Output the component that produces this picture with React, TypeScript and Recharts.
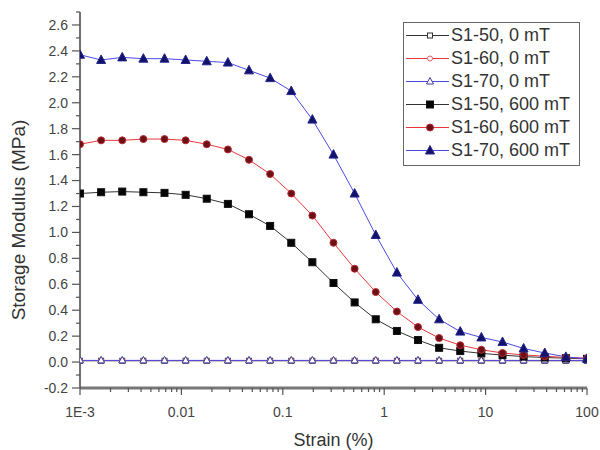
import { LineChart, Line, XAxis, YAxis, Label, Legend } from 'recharts';

if (typeof document !== 'undefined') document.body.style.margin = '0';

const FONT = '"Liberation Sans", Arial, sans-serif';

// strain (%) — log-spaced sweep
const strain = [
  0.001, 0.001616, 0.00261, 0.004217, 0.006813, 0.01101, 0.01778, 0.02873, 0.04642, 0.07499,
  0.1212, 0.1957, 0.3162, 0.5109, 0.8254, 1.334, 2.154, 3.481, 5.623, 9.085,
  14.68, 23.71, 38.31, 61.9, 100,
];

// storage modulus (MPa)
const s50_0 = [
  0.01, 0.01, 0.01, 0.01, 0.01, 0.01, 0.01, 0.01, 0.01, 0.01,
  0.01, 0.01, 0.01, 0.01, 0.01, 0.01, 0.01, 0.01, 0.01, 0.01,
  0.01, 0.01, 0.01, 0.01, 0.01,
];
const s60_0 = [
  0.012, 0.012, 0.012, 0.012, 0.012, 0.012, 0.012, 0.012, 0.012, 0.012,
  0.012, 0.012, 0.012, 0.012, 0.012, 0.012, 0.012, 0.012, 0.012, 0.012,
  0.012, 0.012, 0.012, 0.012, 0.012,
];
const s70_0 = [
  0.013, 0.013, 0.013, 0.013, 0.013, 0.013, 0.013, 0.013, 0.013, 0.013,
  0.013, 0.013, 0.013, 0.013, 0.013, 0.013, 0.013, 0.013, 0.013, 0.013,
  0.013, 0.013, 0.013, 0.013, 0.013,
];
const s50_600 = [
  1.3, 1.31, 1.315, 1.31, 1.305, 1.29, 1.26, 1.22, 1.14, 1.05,
  0.92, 0.77, 0.61, 0.46, 0.33, 0.24, 0.17, 0.11, 0.085, 0.067,
  0.054, 0.042, 0.035, 0.03, 0.025,
];
const s60_600 = [
  1.68, 1.71, 1.71, 1.72, 1.72, 1.71, 1.68, 1.64, 1.56, 1.45,
  1.3, 1.13, 0.92, 0.72, 0.54, 0.39, 0.27, 0.185, 0.13, 0.095,
  0.07, 0.055, 0.045, 0.035, 0.03,
];
const s70_600 = [
  2.37, 2.33, 2.35, 2.34, 2.34, 2.33, 2.32, 2.31, 2.25, 2.19,
  2.09, 1.87, 1.6, 1.3, 0.98, 0.69, 0.48, 0.33, 0.235, 0.19,
  0.155, 0.105, 0.07, 0.04, 0.025,
];

const xMajor = [0.001, 0.01, 0.1, 1, 10, 100];
const xLabels = ['1E-3', '0.01', '0.1', '1', '10', '100'];
const yMajor = [-0.2, 0, 0.2, 0.4, 0.6, 0.8, 1.0, 1.2, 1.4, 1.6, 1.8, 2.0, 2.2, 2.4, 2.6];
const yLabels = ['-0.2', '0.0', '0.2', '0.4', '0.6', '0.8', '1.0', '1.2', '1.4', '1.6', '1.8', '2.0', '2.2', '2.4', '2.6'];
const yMinor = [-0.1, 0.1, 0.3, 0.5, 0.7, 0.9, 1.1, 1.3, 1.5, 1.7, 1.9, 2.1, 2.3, 2.5, 2.7];

const xMinor = xMajor.slice(0, -1).flatMap((d) => [2, 3, 4, 5, 6, 7, 8, 9].map((m) => d * m));
const xTicks = [...xMajor, ...xMinor].sort((a, b) => a - b);
const yTicks = [...yMajor, ...yMinor].sort((a, b) => a - b);

const data = strain.map((x, i) => ({
  strain: x,
  s50_0: s50_0[i],
  s60_0: s60_0[i],
  s70_0: s70_0[i],
  s50_600: s50_600[i],
  s60_600: s60_600[i],
  s70_600: s70_600[i],
}));

type Shape = 'square' | 'circle' | 'triangle';

const series = [
  { key: 's50_0', name: 'S1-50, 0 mT', line: '#333333', shape: 'square' as Shape, fill: '#ffffff', stroke: '#333333', size: 5 },
  { key: 's60_0', name: 'S1-60, 0 mT', line: '#e8383c', shape: 'circle' as Shape, fill: '#ffffff', stroke: '#e06066', size: 5 },
  { key: 's70_0', name: 'S1-70, 0 mT', line: '#4a4ae6', shape: 'triangle' as Shape, fill: '#ffffff', stroke: '#3c3c9e', size: 6 },
  { key: 's50_600', name: 'S1-50, 600 mT', line: '#333333', shape: 'square' as Shape, fill: '#050505', stroke: '#111111', size: 7 },
  { key: 's60_600', name: 'S1-60, 600 mT', line: '#e8383c', shape: 'circle' as Shape, fill: '#6b1016', stroke: '#b82a30', size: 7 },
  { key: 's70_600', name: 'S1-70, 600 mT', line: '#4a4ae6', shape: 'triangle' as Shape, fill: '#12126a', stroke: '#24248c', size: 8 },
];

function Marker({ cx, cy, shape, fill, stroke, size }: any) {
  if (cx == null || cy == null) return null;
  const h = size / 2;
  if (shape === 'square')
    return <rect x={cx - h} y={cy - h} width={size} height={size} fill={fill} stroke={stroke} strokeWidth={1} />;
  if (shape === 'circle') return <circle cx={cx} cy={cy} r={h} fill={fill} stroke={stroke} strokeWidth={1} />;
  return (
    <polygon
      points={`${cx},${cy - h - 1} ${cx - h - 0.5},${cy + h - 0.5} ${cx + h + 0.5},${cy + h - 0.5}`}
      fill={fill}
      stroke={stroke}
      strokeWidth={1}
    />
  );
}

const XTick = (props: any) => {
  const { x, y, payload } = props;
  const idx = xMajor.indexOf(payload.value);
  const major = idx >= 0;
  return (
    <g>
      <line x1={x} x2={x} y1={y} y2={y + (major ? 7 : 4)} stroke="#555" strokeWidth={1.2} />
      {major && (
        <text x={x} y={y + 29} textAnchor="middle" fontSize={14} fontFamily={FONT} fill="#444">
          {xLabels[idx]}
        </text>
      )}
    </g>
  );
};

const YTick = (props: any) => {
  const { x, y, payload } = props;
  const idx = yMajor.indexOf(payload.value);
  const major = idx >= 0;
  return (
    <g>
      <line x1={x} x2={x - (major ? 8 : 4)} y1={y} y2={y} stroke="#555" strokeWidth={1.2} />
      {major && (
        <text x={x - 12} y={y} dy="0.35em" textAnchor="end" fontSize={14} fontFamily={FONT} fill="#444">
          {yLabels[idx]}
        </text>
      )}
    </g>
  );
};

const XTitle = ({ viewBox }: any) => (
  <text
    x={viewBox.x + viewBox.width / 2}
    y={viewBox.y + viewBox.height - 4}
    textAnchor="middle"
    fontSize={18}
    fontFamily={FONT}
    fill="#333"
  >
    Strain (%)
  </text>
);

const YTitle = ({ viewBox }: any) => {
  const cx = viewBox.x + 18;
  const cy = viewBox.y + viewBox.height / 2 + 20;
  return (
    <text
      x={cx}
      y={cy}
      transform={`rotate(-90, ${cx}, ${cy})`}
      textAnchor="middle"
      dominantBaseline="central"
      fontSize={19}
      fontFamily={FONT}
      fill="#333"
    >
      Storage Modulus (MPa)
    </text>
  );
};

const LegendBox = () => (
  <div
    style={{
      border: '1px solid #666',
      background: '#fff',
      padding: '1px 0 3px 1px',
      fontFamily: FONT,
      fontSize: 18,
      color: '#333',
      width: 174,
      overflow: 'hidden',
    }}
  >
    {series.map((s) => (
      <div key={s.key} style={{ display: 'flex', alignItems: 'center', height: 23 }}>
        <svg width={46} height={23} style={{ flex: 'none' }}>
          <line x1={1} x2={44} y1={11.5} y2={11.5} stroke={s.line} strokeWidth={1} />
          <Marker cx={25} cy={11.5} shape={s.shape} fill={s.fill} stroke={s.stroke} size={s.size} />
        </svg>
        <span style={{ whiteSpace: 'nowrap' }}>{s.name}</span>
      </div>
    ))}
  </div>
);

export default function App() {
  return (
    <LineChart width={600} height={450} data={data} margin={{ top: 12, right: 13, left: 0, bottom: 0 }}>
      <XAxis
        dataKey="strain"
        type="number"
        scale="log"
        domain={[0.001, 100]}
        ticks={xTicks}
        interval={0}
        allowDataOverflow
        height={62}
        tickSize={0}
        tickMargin={0}
        tickLine={false}
        tick={XTick}
        axisLine={{ stroke: '#777', strokeWidth: 3 }}
      >
        <Label content={XTitle} />
      </XAxis>
      <YAxis
        type="number"
        domain={[-0.2, 2.7]}
        ticks={yTicks}
        interval={0}
        allowDataOverflow
        width={80}
        tickSize={0}
        tickMargin={0}
        tickLine={false}
        tick={YTick}
        axisLine={{ stroke: '#444', strokeWidth: 1.5 }}
      >
        <Label content={YTitle} />
      </YAxis>
      <Legend
        layout="vertical"
        align="center"
        verticalAlign="middle"
        width={176}
        wrapperStyle={{ top: 22, left: 403 }}
        content={LegendBox}
      />
      {series.map((s) => (
        <Line
          key={s.key}
          dataKey={s.key}
          name={s.name}
          type="linear"
          stroke={s.line}
          strokeWidth={1}
          isAnimationActive={false}
          dot={(p: any) => (
            <Marker
              key={`${s.key}-${p.index}`}
              cx={p.cx}
              cy={p.cy}
              shape={s.shape}
              fill={s.fill}
              stroke={s.stroke}
              size={s.size}
            />
          )}
          activeDot={false}
        />
      ))}
    </LineChart>
  );
}
